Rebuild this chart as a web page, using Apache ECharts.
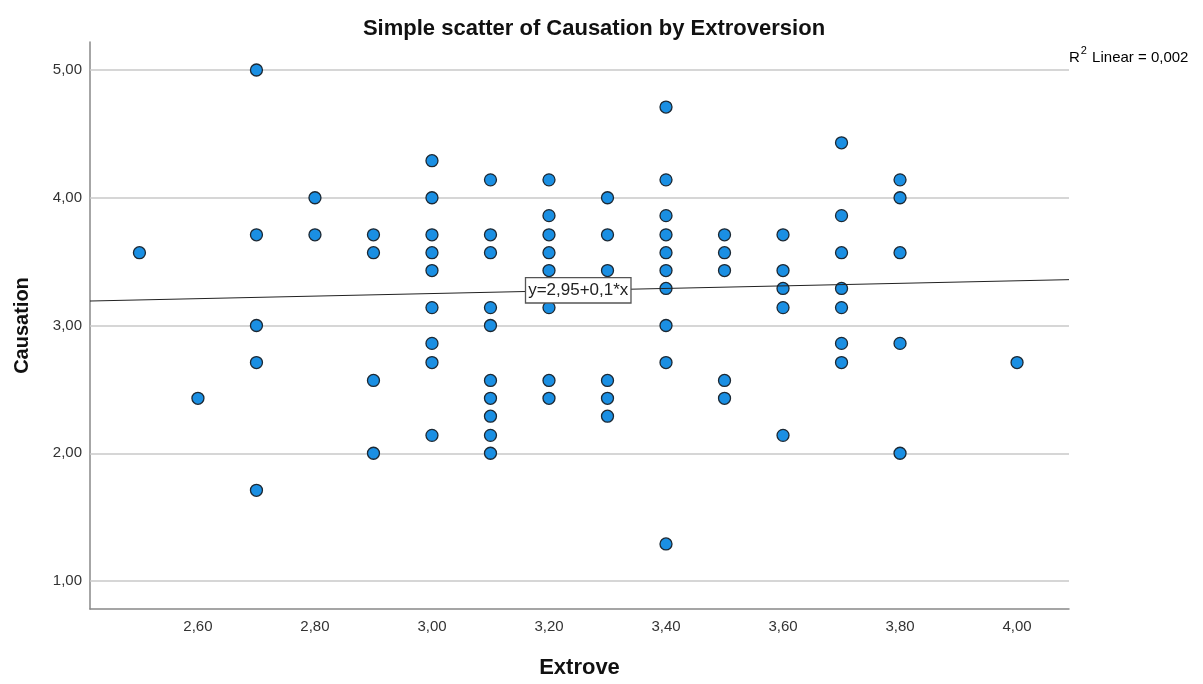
<!DOCTYPE html>
<html>
<head>
<meta charset="utf-8">
<script src="https://cdn.jsdelivr.net/npm/echarts@6/dist/echarts.min.js"></script>
<style>
  html, body { margin: 0; padding: 0; background: #fff; }
  #chart { width: 1203px; height: 684px; }
</style>
</head>
<body>
<div id="chart"></div>
<script>
// Extrove (x) and Causation (y), one entry per respondent
var extrove = [
  2.5,
  2.6,
  2.7, 2.7, 2.7, 2.7, 2.7,
  2.8, 2.8,
  2.9, 2.9, 2.9, 2.9,
  3.0, 3.0, 3.0, 3.0, 3.0, 3.0, 3.0, 3.0, 3.0,
  3.1, 3.1, 3.1, 3.1, 3.1, 3.1, 3.1, 3.1, 3.1, 3.1,
  3.2, 3.2, 3.2, 3.2, 3.2, 3.2, 3.2, 3.2,
  3.3, 3.3, 3.3, 3.3, 3.3, 3.3,
  3.4, 3.4, 3.4, 3.4, 3.4, 3.4, 3.4, 3.4, 3.4, 3.4,
  3.5, 3.5, 3.5, 3.5, 3.5,
  3.6, 3.6, 3.6, 3.6, 3.6,
  3.7, 3.7, 3.7, 3.7, 3.7, 3.7, 3.7,
  3.8, 3.8, 3.8, 3.8, 3.8,
  4.0
];
var causation = [
  3.57,
  2.43,
  5.00, 3.71, 3.00, 2.71, 1.71,
  4.00, 3.71,
  3.71, 3.57, 2.57, 2.00,
  4.29, 4.00, 3.71, 3.57, 3.43, 3.14, 2.86, 2.71, 2.14,
  4.14, 3.71, 3.57, 3.14, 3.00, 2.57, 2.43, 2.29, 2.14, 2.00,
  4.14, 3.86, 3.71, 3.57, 3.43, 3.14, 2.57, 2.43,
  4.00, 3.71, 3.43, 2.57, 2.43, 2.29,
  4.71, 4.14, 3.86, 3.71, 3.57, 3.43, 3.29, 3.00, 2.71, 1.29,
  3.71, 3.57, 3.43, 2.57, 2.43,
  3.71, 3.43, 3.29, 3.14, 2.14,
  4.43, 3.86, 3.57, 3.29, 3.14, 2.86, 2.71,
  4.14, 4.00, 3.57, 2.86, 2.00,
  2.71
];

var xTicks = [2.6, 2.8, 3.0, 3.2, 3.4, 3.6, 3.8, 4.0];
var yTicks = [1, 2, 3, 4, 5];
var xRange = [2.4155, 4.0888];
var yRange = [0.781, 5.219];

// fit line: y = intercept + slope * x
var fitIntercept = 2.95;
var fitSlope = 0.1;
var fitLabelX = 3.25;
var fitText = 'y=2,95+0,1*x';
var r2Text = '0,002';

var FONT = '"Liberation Sans", Arial, sans-serif';

function fmt(v){
  return v.toFixed(2).replace('.', ',');
}

var points = [];
for (var i = 0; i < extrove.length; ++i){
  points.push([extrove[i], causation[i]]);
}

var fitLine = [
  [xRange[0], fitIntercept + fitSlope * xRange[0]],
  [xRange[1], fitIntercept + fitSlope * xRange[1]]
];

var gridLines = yTicks.map(function(v){ return {yAxis: v}; });

var myChart = echarts.init(document.getElementById('chart'));
var option = {
  backgroundColor: '#fff',
  animation: false,
  title: {
    text: 'Simple scatter of Causation by Extroversion',
    left: 589,
    textAlign: 'center',
    top: 13,
    textStyle: { fontFamily: FONT, fontSize: 22, fontWeight: 'bold', color: '#111' }
  },
  grid: { left: 90, right: 134, top: 42, bottom: 74 },
  xAxis: {
    type: 'value',
    min: xRange[0],
    max: xRange[1],
    name: 'Extrove',
    nameLocation: 'middle',
    nameGap: 48,
    nameTextStyle: { fontFamily: FONT, fontSize: 22, fontWeight: 'bold', color: '#111' },
    axisLine: { show: true, lineStyle: { color: '#888', width: 1.5 } },
    axisTick: { show: false },
    splitLine: { show: false },
    axisLabel: {
      customValues: xTicks,
      formatter: fmt,
      margin: 10,
      fontFamily: FONT, fontSize: 15, color: '#333'
    }
  },
  yAxis: {
    type: 'value',
    min: yRange[0],
    max: yRange[1],
    name: 'Causation',
    nameLocation: 'middle',
    nameGap: 58,
    nameTextStyle: { fontFamily: FONT, fontSize: 20, fontWeight: 'bold', color: '#111' },
    axisLine: { show: true, lineStyle: { color: '#888', width: 1.5 } },
    axisTick: { show: false },
    splitLine: { show: false },
    axisLabel: {
      customValues: yTicks,
      formatter: fmt,
      margin: 8,
      fontFamily: FONT, fontSize: 15, color: '#333'
    }
  },
  graphic: [{
    type: 'text',
    left: 1069,
    top: 45,
    style: {
      text: '{a|R}{s|2}{a| Linear = ' + r2Text + '}',
      rich: {
        a: { fontFamily: FONT, fontSize: 15, color: '#222', verticalAlign: 'bottom', lineHeight: 20 },
        s: { fontFamily: FONT, fontSize: 11, color: '#222', verticalAlign: 'top', lineHeight: 20, padding: [0, 1, 8, 1] }
      }
    }
  }],
  series: [
    {
      type: 'scatter',
      data: points,
      symbol: 'circle',
      symbolSize: 12,
      z: 3,
      itemStyle: { color: '#1a8fe3', borderColor: '#1c2833', borderWidth: 1.3, opacity: 1 },
      markLine: {
        silent: true,
        symbol: 'none',
        z: 1,
        label: { show: false },
        lineStyle: { color: '#c8c8c8', width: 1.5, type: 'solid' },
        data: gridLines
      }
    },
    {
      type: 'line',
      data: fitLine,
      symbol: 'none',
      silent: true,
      z: 4,
      lineStyle: { color: '#222', width: 1 },
      markPoint: {
        symbol: 'rect',
        symbolSize: 0,
        z: 5,
        data: [{ coord: [fitLabelX, fitIntercept + fitSlope * fitLabelX] }],
        label: {
          show: true,
          position: 'inside',
          formatter: fitText,
          fontFamily: FONT,
          fontSize: 17,
          color: '#222',
          backgroundColor: '#fff',
          borderColor: '#555',
          borderWidth: 1.3,
          padding: [4, 2, 3, 2]
        }
      }
    }
  ]
};
myChart.setOption(option);
</script>
</body>
</html>
